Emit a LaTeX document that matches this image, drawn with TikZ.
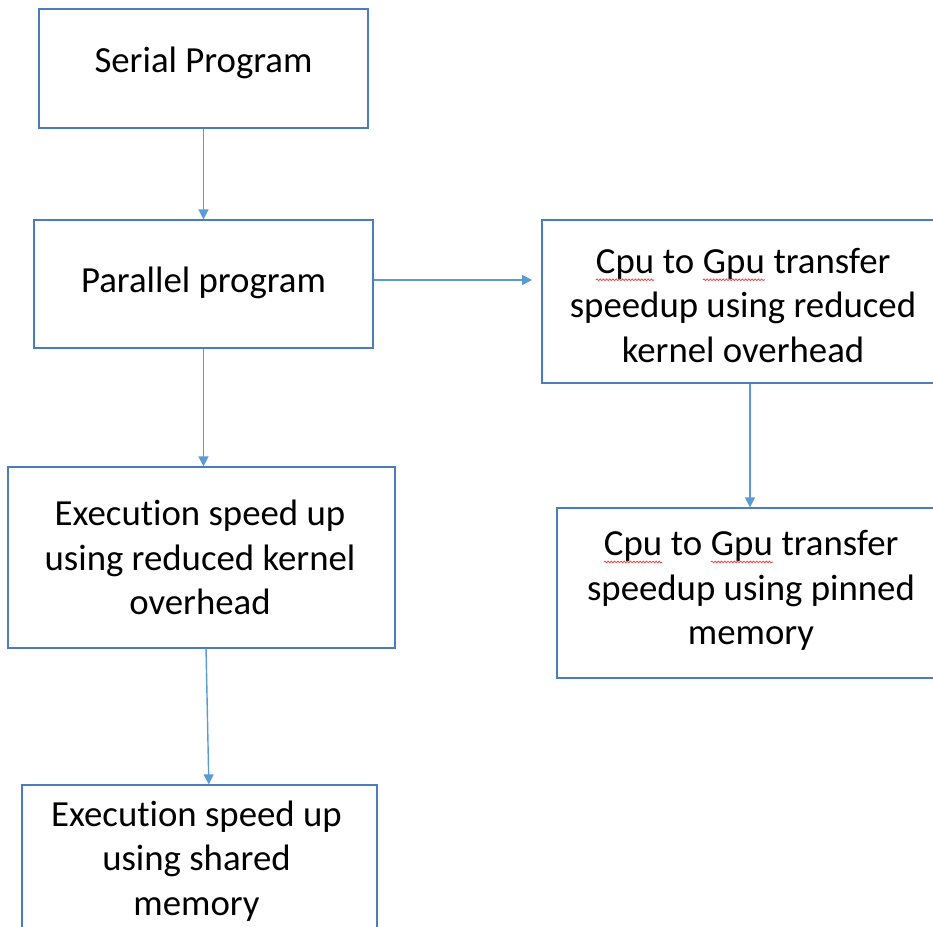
\documentclass[tikz,border=0pt]{standalone}
\usepackage{fontspec}
\setmainfont{Carlito}[Ligatures=NoCommon]
\usetikzlibrary{arrows.meta,decorations.pathmorphing}

\definecolor{boxline}{HTML}{4A7EBB}
\definecolor{flow}{HTML}{5B9BD5}
\definecolor{spell}{HTML}{EE3B3B}

% word with a red wavy underline
\newcommand\spellflag[1]{\tikz[baseline=(sf.base)]{%
  \node[inner sep=0pt,outer sep=0pt] (sf) {#1};%
  \draw[spell,line width=0.55pt,decorate,
        decoration={snake,amplitude=0.65pt,segment length=2.4pt}]
    ([yshift=-0.3pt]sf.south west) -- ([yshift=-0.3pt]sf.south east);}}

\begin{document}
\begin{tikzpicture}[x=0.75pt,y=-0.75pt,
  box/.style={draw=boxline,line width=0.9pt,inner sep=0pt,fill=white},
  lbl/.style={align=center,inner sep=0pt,
              font=\fontsize{27.6}{33.4}\selectfont},
  link/.style={flow,line width=1.05pt,
               -{Triangle[length=7.5pt,width=7.5pt]}}]
\useasboundingbox (0,0) rectangle (933,927);

% boxes
\node[box,minimum width=246.75pt,minimum height=89.25pt]  (serial)   at (203.5,68.5) {};
\node[box,minimum width=254.25pt,minimum height=96pt]     (parallel) at (203.5,284)  {};
\node[box,minimum width=301.5pt,minimum height=122.25pt]  (cpuA)     at (743,301.5)  {};
\node[box,minimum width=291pt,minimum height=127.5pt]     (cpuB)     at (751,593)    {};
\node[box,minimum width=290.25pt,minimum height=135.75pt] (execA)    at (201.5,557.5){};
\node[box,minimum width=266.25pt,minimum height=131.25pt] (execB)    at (199.5,872.5){};

% labels
\node[lbl] (tSerial)   at (203.5,63.3) {Serial Program};
\node[lbl] (tParallel) at (203.5,283.3) {Parallel program};
\node[lbl] (tCpuA)     at (743,305.5) {\spellflag{Cpu} to \spellflag{Gpu} transfer\\speedup using reduced\\kernel overhead};
\node[lbl] (tCpuB)     at (751,590.5) {\spellflag{Cpu} to \spellflag{Gpu} transfer\\speedup using pinned\\memory};
\node[lbl] (tExecA)    at (200,557.5) {Execution speed up\\using reduced kernel\\overhead};
\node[lbl] (tExecB)    at (196.5,861) {Execution speed up\\using shared\\memory};

% connectors
\draw[link] (serial) -- (parallel);
\draw[link] (parallel.east) ++(0,-4) coordinate (pe) -- ([xshift=-7pt]cpuA.west |- pe);
\draw[link] (parallel.south) -- (parallel.south |- execA.north);
\draw[link] ([xshift=3.4pt]execA.south) -- ([xshift=7pt]execB.north);
\draw[link] ([xshift=5.25pt]cpuA.south) -- ([xshift=-0.75pt]cpuB.north);
\end{tikzpicture}
\end{document}
